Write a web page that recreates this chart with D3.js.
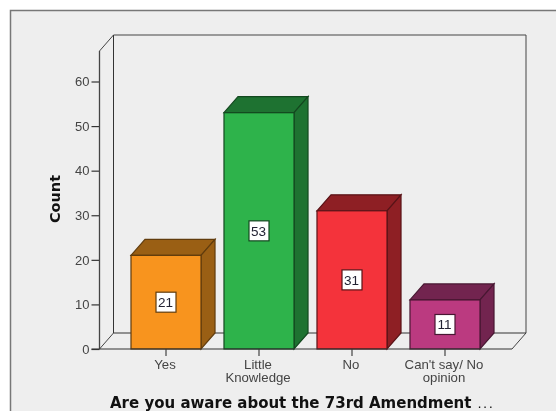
<!DOCTYPE html>
<html><head><meta charset="utf-8">
<script src="https://cdn.jsdelivr.net/npm/d3@7/dist/d3.min.js"></script>
<style>
html,body{margin:0;padding:0;background:#fff}
svg{display:block;filter:blur(0.35px)}
text{font-family:"Liberation Sans",Arial,sans-serif}
</style></head><body>
<svg id="c" width="556" height="411"></svg>
<script>
const categories = [["Yes"],["Little","Knowledge"],["No"],["Can't say/ No","opinion"]];
const counts = [21,53,31,11];
const frontColors = ["#F8941E","#2EB34B","#F4333B","#BB3A80"];
const sideColors = ["#9A5F14","#1E7231","#8E1F24","#72244F"];
const yTicks = [0,10,20,30,40,50,60];
const xTitle = "Are you aware about the 73rd Amendment";
const xTitleMore = "...";
const yTitle = "Count";

const svg = d3.select("#c");
const dx = 14, dy = -16;
const y = d3.scaleLinear().domain([0,60]).range([349,81.5]);
const x = d3.scaleBand().domain(d3.range(counts.length)).range([99,512]).paddingInner(0.247).paddingOuter(0.344);
const yTop = 51;

// outer frame
svg.append("rect").attr("x",10).attr("y",10).attr("width",546).attr("height",401).attr("fill","#EEEEEE");
svg.append("path").attr("d","M10.5,411V10.5H556").attr("fill","none").attr("stroke","#777").attr("stroke-width",1.5);

// chart box: back wall, left wall, floor
const x0=99.5, x1=512, y0=y(0);
const line = (pts)=>"M"+pts.map(p=>p.join(",")).join("L");
svg.append("path").attr("d",line([[x0,yTop],[x0+dx,yTop+dy],[x1+dx,yTop+dy],[x1+dx,y0+dy],[x1,y0]]))
  .attr("fill","none").attr("stroke","#444").attr("stroke-width",1);
svg.append("path").attr("d",line([[x0+dx,yTop+dy],[x0+dx,y0+dy],[x1+dx,y0+dy]]))
  .attr("fill","none").attr("stroke","#333").attr("stroke-width",1);
svg.append("path").attr("d",line([[x0,y0],[x0+dx,y0+dy]])).attr("fill","none").attr("stroke","#444");

// bars
const bars = svg.append("g").selectAll("g").data(counts).join("g");
const edge = (i)=>d3.color(sideColors[i]).darker(1.3);
bars.append("path") // top
  .attr("d",(d,i)=>{const a=x(i),b=a+x.bandwidth(),t=y(d);return line([[a,t],[a+dx,t+dy],[b+dx,t+dy],[b,t]])+"Z";})
  .attr("fill",(d,i)=>sideColors[i]).attr("stroke",(d,i)=>edge(i)).attr("stroke-width",1.2);
bars.append("path") // side
  .attr("d",(d,i)=>{const b=x(i)+x.bandwidth(),t=y(d);return line([[b,t],[b+dx,t+dy],[b+dx,y0+dy],[b,y0]])+"Z";})
  .attr("fill",(d,i)=>sideColors[i]).attr("stroke",(d,i)=>edge(i)).attr("stroke-width",1.2);
bars.append("rect") // front
  .attr("x",(d,i)=>x(i)).attr("y",d=>y(d)).attr("width",x.bandwidth()).attr("height",d=>y0-y(d))
  .attr("fill",(d,i)=>frontColors[i]).attr("stroke",(d,i)=>edge(i)).attr("stroke-width",1.2);
// value labels
bars.append("rect")
  .attr("x",(d,i)=>x(i)+x.bandwidth()/2-10).attr("y",d=>(y(d)+y0)/2-10)
  .attr("width",20).attr("height",20).attr("fill","#fff").attr("stroke",(d,i)=>edge(i)).attr("stroke-width",1.2);
bars.append("text")
  .attr("x",(d,i)=>x(i)+x.bandwidth()/2-0.5).attr("y",d=>(y(d)+y0)/2+5)
  .attr("text-anchor","middle").attr("font-size",13.5).attr("fill","#223").text(d=>d);

// y axis
const yAxis = svg.append("g").attr("transform","translate(99.5,0)")
  .call(d3.axisLeft(y).tickValues(yTicks).tickSize(8).tickPadding(2));
yAxis.select(".domain").remove();
svg.append("path").attr("d",line([[x0,yTop],[x0,y0]])).attr("stroke","#444").attr("stroke-width",1.3).attr("fill","none");
yAxis.selectAll("line").attr("stroke","#333").attr("stroke-width",1.2);
yAxis.selectAll("text").attr("font-size",13).attr("fill","#444").attr("font-family",'"Liberation Sans",Arial,sans-serif');

// x axis
const xAxis = svg.append("g").attr("transform",`translate(0,${y0})`)
  .call(d3.axisBottom(x).tickSize(7).tickFormat(""));
xAxis.select(".domain").remove();
svg.append("path").attr("d",line([[x0-8,y0],[x1,y0]])).attr("stroke","#333").attr("stroke-width",1.2).attr("fill","none");
xAxis.selectAll("line").attr("stroke","#444").attr("stroke-width",1.2);
xAxis.selectAll(".tick").each(function(d,i){
  const t=d3.select(this).select("text").attr("y",0).attr("dy",null).attr("fill","#444")
    .attr("font-size",13.2).attr("font-family",'"Liberation Sans",Arial,sans-serif');
  categories[i].forEach((s,k)=>t.append("tspan").attr("x",-1).attr("y",20+k*13).text(s));
});

// titles
const tt = svg.append("text").attr("x",110).attr("y",408)
  .attr("font-size",15).attr("font-weight","bold").attr("fill","#111")
  .style("font-family",'"DejaVu Sans",sans-serif').text(xTitle);
tt.append("tspan").attr("dx",6).attr("font-size",13).attr("font-weight","normal").attr("letter-spacing",1.5).text(xTitleMore);
svg.append("text").attr("transform","translate(59.5,199) rotate(-90)").attr("text-anchor","middle")
  .attr("font-size",14.5).attr("font-weight","bold").attr("fill","#111")
  .style("font-family",'"DejaVu Sans",sans-serif').text(yTitle);
</script>
</body></html>
